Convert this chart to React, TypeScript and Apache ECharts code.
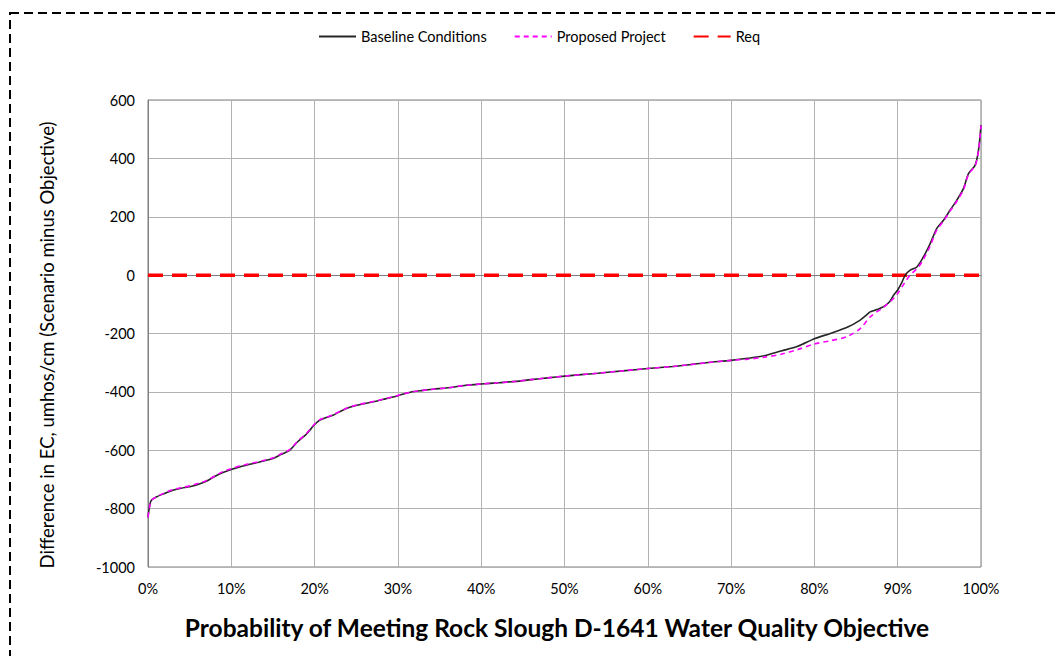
import React, { useEffect, useRef } from "react";
import * as echarts from "echarts";

const seriesNames = ["Baseline Conditions", "Proposed Project", "Req"];

const probBase = [0, 0.2, 0.4, 1, 2, 3, 4, 5, 6, 7, 8, 9, 10, 11, 12, 13, 14, 15, 16, 17, 18, 19, 20, 20.6, 21.5, 22.2, 23, 24.2, 25.5, 27.4, 28.5, 30, 31.5, 33, 34.2, 36, 38, 40, 42, 44.2, 46, 48, 50, 52, 54, 57, 60, 63, 65, 67, 70, 72, 74, 76, 78, 80, 82, 84, 85.5, 86.2, 86.7, 87.5, 88.3, 89, 89.5, 90, 90.5, 90.9, 91.5, 92.3, 93.1, 93.9, 94.7, 95.5, 96.3, 97.1, 97.9, 98.5, 99.3, 99.7, 100];
const valBase = [-830, -790, -771, -760, -748, -737, -730, -725, -717, -706, -690, -676, -666, -657, -650, -643, -636, -628, -614, -600, -570, -545, -512, -497, -487, -480, -468, -453, -443, -432, -424, -413, -401, -395, -391, -386, -378, -373, -369, -364, -358, -352, -346, -341, -336, -328, -320, -313, -307, -300, -292, -285, -276, -260, -244, -218, -199, -178, -154, -138, -126, -118, -108, -92, -69, -51, -25, 0, 17, 28, 63, 108, 160, 188, 223, 257, 297, 348, 377, 428, 514];

const probProp = [0, 0.2, 0.4, 1, 2, 3, 4, 5, 6, 7, 8, 9, 10, 11, 12, 13, 14, 15, 16, 17, 18, 19, 20, 20.6, 21.5, 22.2, 23, 24.2, 25.5, 27.4, 28.5, 30, 31.5, 33, 34.2, 36, 38, 40, 42, 44.2, 46, 48, 50, 52, 54, 57, 60, 63, 65, 67, 70, 72, 74, 76, 78, 80, 81.9, 83.9, 85.5, 86.7, 88.3, 89.5, 90, 90.9, 91.5, 92.5, 93.1, 93.9, 94.7, 95.5, 96.3, 97.1, 97.9, 98.5, 99.3, 99.7, 100];
const valProp = [-830, -792, -772, -760, -746, -735, -728, -722, -714, -704, -688, -673, -663, -654, -647, -641, -634, -626, -612, -598, -568, -543, -510, -496, -486, -479, -467, -452, -442, -431, -423, -412, -401, -395, -391, -386, -378, -373, -369, -364, -358, -352, -346, -341, -336, -328, -320, -313, -307, -300, -292, -288, -281, -271, -255, -236, -225, -211, -183, -143, -110, -80, -63, -23, 0, 28, 55, 100, 155, 185, 220, 253, 293, 345, 375, 425, 512];

const probReq = [0, 100];
const valReq = [0, 0];

const xTicks = { min: 0, max: 100, interval: 10 };
const yTicks = { min: -1000, max: 600, interval: 200 };

const yTitle = "Difference in EC, umhos/cm (Scenario minus Objective)";
const xTitle = "Probability of Meeting Rock Slough D-1641 Water Quality Objective";

const FONT = "Lato, 'Open Sans', sans-serif";

export default function App() {
  const ref = useRef<HTMLDivElement>(null);

  useEffect(() => {
    document.body.style.margin = "0";
    const chart = echarts.init(ref.current!, null, { renderer: "svg" });
    const zip = (xs: number[], ys: number[]) => xs.map((x, i) => [x, ys[i]]);
    chart.setOption({
      animation: false,
      backgroundColor: "#ffffff",
      textStyle: { fontFamily: FONT },
      legend: {
        left: 313,
        top: 24,
        itemWidth: 37,
        itemHeight: 12,
        itemGap: 27,
        itemStyle: { opacity: 0 },
        textStyle: { fontFamily: FONT, fontSize: 14.5, color: "#000" },
        data: seriesNames,
      },
      grid: {
        left: 148,
        right: 79,
        top: 100,
        bottom: 89,
        show: true,
        borderColor: "#7f7f7f",
        borderWidth: 1,
      },
      xAxis: {
        type: "value",
        min: xTicks.min,
        max: xTicks.max,
        interval: xTicks.interval,
        axisLine: { show: true, lineStyle: { color: "#7f7f7f", width: 1 } },
        axisTick: { show: false },
        splitLine: { show: true, lineStyle: { color: "#b3b3b3", width: 1 } },
        axisLabel: {
          margin: 14,
          fontSize: 14.5,
          color: "#000",
          fontFamily: FONT,
          formatter: (v: number) => `${v}%`,
        },
      },
      yAxis: {
        type: "value",
        min: yTicks.min,
        max: yTicks.max,
        interval: yTicks.interval,
        axisLine: { show: true, lineStyle: { color: "#7f7f7f", width: 1 } },
        axisTick: { show: false },
        splitLine: { show: true, lineStyle: { color: "#b3b3b3", width: 1 } },
        axisLabel: {
          margin: 13,
          fontSize: 14.5,
          color: "#000",
          fontFamily: FONT,
          formatter: (v: number) => String(v),
        },
      },
      series: [
        {
          name: seriesNames[0],
          type: "line",
          data: zip(probBase, valBase),
          showSymbol: false,
          symbol: "none",
          smooth: 0.3,
          lineStyle: { color: "#262626", width: 1.6 },
          itemStyle: { color: "#262626" },
          z: 3,
        },
        {
          name: seriesNames[1],
          type: "line",
          data: zip(probProp, valProp),
          showSymbol: false,
          symbol: "none",
          smooth: 0.3,
          lineStyle: { color: "#ff00ff", width: 1.6, type: [5, 4] },
          itemStyle: { color: "#ff00ff" },
          z: 4,
        },
        {
          name: seriesNames[2],
          type: "line",
          data: zip(probReq, valReq),
          showSymbol: false,
          symbol: "none",
          lineStyle: { color: "#ff0000", width: 3.5, type: [15, 9] },
          itemStyle: { color: "#ff0000" },
          z: 2,
        },
      ],
      graphic: [
        {
          type: "rect",
          shape: { x: 10, y: 13, width: 1100, height: 700 },
          style: { fill: "none", stroke: "#000", lineWidth: 2, lineDash: [9, 5] },
          silent: true,
        },
        {
          type: "text",
          x: 47,
          y: 345,
          rotation: Math.PI / 2,
          style: {
            text: yTitle,
            font: `18.5px ${FONT}`,
            fill: "#000",
            textAlign: "center",
            textVerticalAlign: "middle",
          },
        },
        {
          type: "text",
          x: 557,
          y: 627,
          style: {
            text: xTitle,
            font: `bold 24.5px ${FONT}`,
            fill: "#000",
            textAlign: "center",
            textVerticalAlign: "middle",
          },
        },
      ],
    });
    return () => chart.dispose();
  }, []);

  return <div ref={ref} style={{ width: 1060, height: 656 }} />;
}
